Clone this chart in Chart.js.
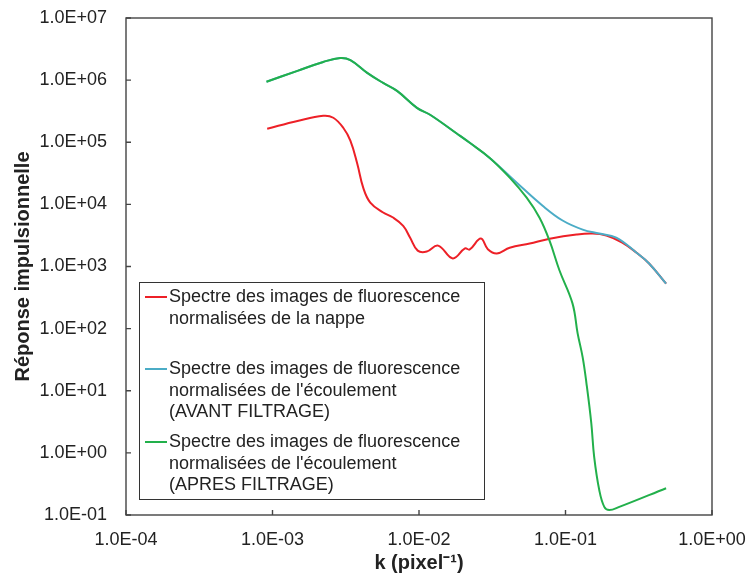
<!DOCTYPE html>
<html>
<head>
<meta charset="utf-8">
<script src="https://cdn.jsdelivr.net/npm/chart.js@4.4.0/dist/chart.umd.min.js"></script>
<style>
  html, body { margin: 0; padding: 0; background: #fff; }
</style>
</head>
<body>
<canvas id="chart" width="749" height="578"></canvas>
<script>
// spectre de la nappe (rouge)
const kRed = [9.2e-4, 1.48e-3, 2.22e-3, 2.6e-3, 3.04e-3, 3.4e-3, 3.79e-3, 4.16e-3, 4.65e-3, 5.69e-3,
  6.6e-3, 7.8e-3, 8.7e-3, 9.8e-3, 1.13e-2, 1.35e-2, 1.7e-2, 2.06e-2, 2.22e-2, 2.64e-2, 2.95e-2,
  3.4e-2, 4.16e-2, 5.7e-2, 7.8e-2, 0.119, 0.153, 0.19, 0.244, 0.304, 0.372, 0.486];
const redValues = [1.65e5, 2.2e5, 2.67e5, 2.48e5, 1.71e5, 1.06e5, 4.5e4, 1.86e4, 1.07e4, 7.4e3,
  6.2e3, 4.5e3, 2.9e3, 1.8e3, 1.74e3, 2.17e3, 1.35e3, 1.95e3, 1.88e3, 2.82e3, 1.9e3,
  1.62e3, 2.0e3, 2.35e3, 2.8e3, 3.27e3, 3.39e3, 3.15e3, 2.43e3, 1.68e3, 1.12e3, 5.3e2];

// ecoulement avant filtrage (bleu)
const kBlue = [9.1e-4, 1.48e-3, 2.22e-3, 2.9e-3, 3.4e-3, 4.43e-3, 5.69e-3, 7.08e-3, 9.68e-3, 1.19e-2,
  1.82e-2, 2.22e-2, 3.04e-2, 4.65e-2, 6.98e-2, 9.55e-2, 0.131, 0.17, 0.222, 0.304, 0.372, 0.486];
const blueValues = [9.4e5, 1.41e6, 1.96e6, 2.27e6, 2.1e6, 1.31e6, 9.0e5, 6.7e5, 3.58e5, 2.77e5,
  1.37e5, 9.8e4, 5.6e4, 2.23e4, 9.5e3, 5.5e3, 3.93e3, 3.39e3, 2.92e3, 1.68e3, 1.12e3, 5.3e2];

// ecoulement apres filtrage (vert)
const kGreen = [9.1e-4, 1.48e-3, 2.22e-3, 2.9e-3, 3.4e-3, 4.43e-3, 5.69e-3, 7.08e-3, 9.68e-3, 1.19e-2,
  1.82e-2, 2.22e-2, 3.04e-2, 4.16e-2, 5.43e-2, 6.65e-2, 7.78e-2, 9.1e-2, 0.1116, 0.121, 0.131,
  0.139, 0.150, 0.157, 0.170, 0.184, 0.199, 0.233, 0.486];
const greenValues = [9.4e5, 1.41e6, 1.96e6, 2.27e6, 2.1e6, 1.31e6, 9.0e5, 6.7e5, 3.58e5, 2.77e5,
  1.37e5, 9.8e4, 5.6e4, 2.7e4, 1.28e4, 6.1e3, 2.6e3, 863, 255, 84, 34.5,
  13.2, 3.0, 0.855, 0.252, 0.135, 0.12, 0.135, 0.27];

const xTicks = [1e-4, 1e-3, 1e-2, 1e-1, 1];
const yTicks = [1e-1, 1, 1e1, 1e2, 1e3, 1e4, 1e5, 1e6, 1e7];

const legendLabels = [
  ['Spectre des images de fluorescence', 'normalisées de la nappe'],
  ['Spectre des images de fluorescence', "normalisées de l'écoulement", '(AVANT FILTRAGE)'],
  ['Spectre des images de fluorescence', "normalisées de l'écoulement", '(APRES FILTRAGE)'],
];
const colors = ['#ed2027', '#4bacc6', '#22b04b'];

const toPoints = (ks, vs) => ks.map((k, i) => ({ x: k, y: vs[i] }));

const sci = (v) => {
  const e = Math.round(Math.log10(v));
  return '1.0E' + (e < 0 ? '-' : '+') + String(Math.abs(e)).padStart(2, '0');
};

const tickFont = { family: 'Liberation Sans, Arial, sans-serif', size: 18 };
const titleFont = { family: 'Liberation Sans, Arial, sans-serif', size: 20, weight: 'bold' };

// cadre, graduations interieures et legende
const frame = {
  id: 'frame',
  beforeDatasetsDraw(chart) {
    const { ctx, chartArea: a, scales: { x, y } } = chart;
    ctx.save();
    ctx.strokeStyle = '#444';
    ctx.lineWidth = 1.4;
    ctx.strokeRect(a.left, a.top, a.right - a.left, a.bottom - a.top);
    ctx.beginPath();
    xTicks.forEach(v => {
      const px = x.getPixelForValue(v);
      ctx.moveTo(px, a.bottom);
      ctx.lineTo(px, a.bottom - 5);
    });
    yTicks.forEach(v => {
      const py = y.getPixelForValue(v);
      ctx.moveTo(a.left, py);
      ctx.lineTo(a.left + 5, py);
    });
    ctx.stroke();
    ctx.restore();
  },
  afterDatasetsDraw(chart) {
    const { ctx, chartArea: a } = chart;
    const left = a.left + 13;
    const top = a.top + 264;
    const starts = [15, 87, 160];
    const lh = 21.7;
    ctx.save();
    ctx.fillStyle = '#fff';
    ctx.fillRect(left, top, 345, 217);
    ctx.strokeStyle = '#333';
    ctx.lineWidth = 1;
    ctx.strokeRect(left + 0.5, top + 0.5, 345, 217);
    ctx.font = '18px "Liberation Sans", Arial, sans-serif';
    ctx.textBaseline = 'middle';
    ctx.fillStyle = '#222';
    legendLabels.forEach((lines, i) => {
      const y0 = top + starts[i];
      ctx.strokeStyle = colors[i];
      ctx.lineWidth = 2;
      ctx.beginPath();
      ctx.moveTo(left + 6, y0);
      ctx.lineTo(left + 28, y0);
      ctx.stroke();
      lines.forEach((t, j) => ctx.fillText(t, left + 30, y0 + j * lh));
    });
    ctx.restore();
  }
};

const line = (label, data, color, order) => ({
  label, data, order,
  borderColor: color,
  backgroundColor: color,
  borderWidth: 2,
  pointRadius: 0,
  showLine: true,
  tension: 0.4,
});

new Chart(document.getElementById('chart'), {
  type: 'scatter',
  data: {
    datasets: [
      line('nappe', toPoints(kRed, redValues), colors[0], 2),
      line('avant', toPoints(kBlue, blueValues), colors[1], 1),
      line('apres', toPoints(kGreen, greenValues), colors[2], 0),
    ],
  },
  options: {
    responsive: false,
    devicePixelRatio: 1,
    animation: false,
    layout: { padding: { top: 18, right: 37, left: 0, bottom: 0 } },
    plugins: { legend: { display: false }, tooltip: { enabled: false } },
    scales: {
      x: {
        type: 'logarithmic',
        min: 1e-4,
        max: 1,
        afterBuildTicks: s => { s.ticks = xTicks.map(v => ({ value: v })); },
        afterFit: s => { s.height = 63; s.paddingLeft = 0; s.paddingRight = 0; },
        grid: { display: false, drawTicks: false },
        border: { display: false },
        ticks: { callback: v => sci(v), font: tickFont, color: '#222', padding: 14, maxRotation: 0, autoSkip: false },
        title: { display: true, text: 'k (pixel⁻¹)', font: titleFont, color: '#222', padding: { top: 0, bottom: 3 } },
      },
      y: {
        type: 'logarithmic',
        min: 1e-1,
        max: 1e7,
        afterBuildTicks: s => { s.ticks = yTicks.map(v => ({ value: v })); },
        afterFit: s => { s.width = 126; s.paddingTop = 0; s.paddingBottom = 0; },
        grid: { display: false, drawTicks: false },
        border: { display: false },
        ticks: { callback: v => sci(v), font: tickFont, color: '#222', padding: 19, autoSkip: false },
        title: { display: true, text: 'Réponse impulsionnelle', font: titleFont, color: '#222', padding: { top: 11, bottom: 0 } },
      },
    },
  },
  plugins: [frame],
});
</script>
</body>
</html>
